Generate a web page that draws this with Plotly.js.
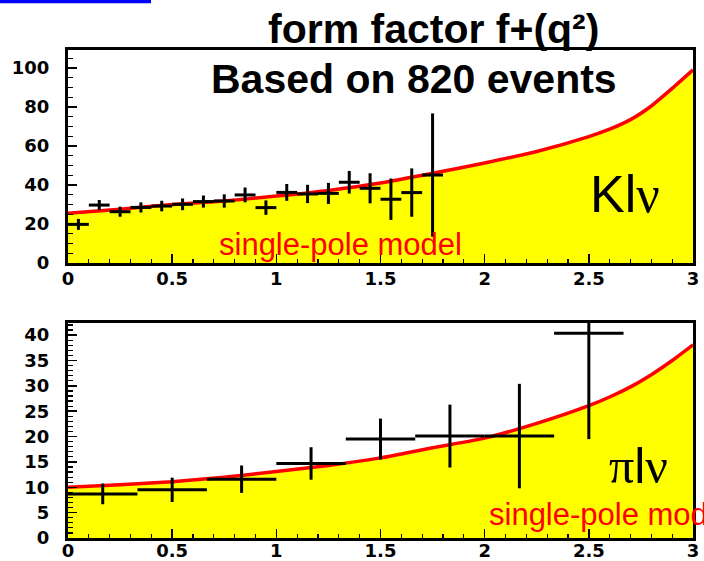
<!DOCTYPE html>
<html>
<head>
<meta charset="utf-8">
<script src="https://cdn.plot.ly/plotly-3.0.1.min.js"></script>
<style>html,body{margin:0;padding:0;background:#fff;}</style>
</head>
<body>
<div id="chart" style="width:704px;height:561px;"></div>
<script>
// ---- Klν panel (top) ----
const kModelQ2 = [0, 0.25, 0.5, 0.75, 1.0, 1.25, 1.5, 1.75, 2.0, 2.25, 2.5, 2.6, 2.7, 2.8, 2.9, 3.0];
const kModelF  = [25.5, 27.6, 30.0, 31.8, 34.3, 37.2, 41.0, 46.0, 51.3, 57.2, 64.8, 68.6, 73.5, 80.5, 89.5, 99.0];
const kDataQ2  = [0.05, 0.15, 0.25, 0.35, 0.45, 0.55, 0.65, 0.75, 0.85, 0.95, 1.05, 1.15, 1.25, 1.35, 1.45, 1.55, 1.65, 1.75];
const kDataF   = [19.8, 29.7, 26.3, 28.5, 29.2, 30.1, 31.5, 31.8, 34.9, 28.4, 36.2, 35.4, 35.7, 41.4, 38.3, 32.7, 36.1, 45.1];
const kDataErr = [2.8, 2.6, 2.6, 2.6, 2.7, 3.0, 3.1, 3.4, 3.8, 3.7, 4.3, 4.7, 5.4, 5.8, 7.7, 10.6, 12.4, 31.6];
const kBinHalf = 0.05;

// ---- πlν panel (bottom) ----
const pModelQ2 = [0, 0.25, 0.5, 0.75, 1.0, 1.25, 1.5, 1.75, 2.0, 2.25, 2.5, 2.6, 2.7, 2.8, 2.9, 3.0];
const pModelF  = [10.0, 10.5, 11.1, 12.0, 13.1, 14.3, 15.8, 17.8, 19.7, 22.6, 26.1, 27.8, 29.8, 32.2, 35.0, 38.1];
const pDataQ2  = [0.1667, 0.5, 0.8333, 1.1667, 1.5, 1.8333, 2.1667, 2.5];
const pDataF   = [8.7, 9.5, 11.6, 14.7, 19.5, 20.1, 20.1, 40.4];
const pDataErr = [2.05, 2.4, 2.7, 3.2, 4.05, 6.2, 10.3, 20.9];
const pBinHalf = 0.1667;

const xTicks = [0, 0.5, 1, 1.5, 2, 2.5, 3];
const xTickText = ['0', '0.5', '1', '1.5', '2', '2.5', '3'];

const tickFont = {family: 'DejaVu Sans', size: 18, color: '#000', weight: 'bold'};

function modelTrace(x, y, xa, ya) {
  return {
    x: x, y: y, xaxis: xa, yaxis: ya, type: 'scatter', mode: 'lines',
    line: {color: '#ff0000', width: 3.5, shape: 'spline', smoothing: 0.6},
    fill: 'tozeroy', fillcolor: '#ffff00', hoverinfo: 'skip', showlegend: false
  };
}
function dataTrace(x, y, err, half, xa, ya) {
  return {
    x: x, y: y, xaxis: xa, yaxis: ya, type: 'scatter', mode: 'markers',
    marker: {size: 1, color: 'rgba(0,0,0,0)'},
    error_y: {type: 'data', array: err, visible: true, color: '#000', thickness: 3, width: 0},
    error_x: {type: 'constant', value: half, visible: true, color: '#000', thickness: 3, width: 0},
    showlegend: false, hoverinfo: 'skip'
  };
}

const traces = [
  modelTrace(kModelQ2, kModelF, 'x', 'y'),
  dataTrace(kDataQ2, kDataF, kDataErr, kBinHalf, 'x', 'y'),
  modelTrace(pModelQ2, pModelF, 'x2', 'y2'),
  dataTrace(pDataQ2, pDataF, pDataErr, pBinHalf, 'x2', 'y2')
];

function xAxis(anchor, standoff) {
  return {
    anchor: anchor, domain: [0, 1], range: [0, 3], tickvals: xTicks, ticktext: xTickText,
    ticks: 'inside', ticklen: 9, tickwidth: 1.5, tickcolor: '#000',
    minor: {dtick: 0.1, tick0: 0, ticks: 'inside', ticklen: 4, tickwidth: 1.2, tickcolor: '#000', showgrid: false},
    showline: true, linecolor: '#000', linewidth: 3, mirror: true,
    showgrid: false, zeroline: false, tickfont: tickFont, ticklabelstandoff: standoff
  };
}
function yAxis(anchor, domain, range, dtick, minorDtick) {
  return {
    anchor: anchor, domain: domain, range: range, dtick: dtick, tick0: 0,
    ticks: 'inside', ticklen: 9, tickwidth: 1.5, tickcolor: '#000',
    minor: {dtick: minorDtick, tick0: 0, ticks: 'inside', ticklen: 5, tickwidth: 1.2, tickcolor: '#000', showgrid: false},
    showline: true, linecolor: '#000', linewidth: 3, mirror: true,
    showgrid: false, zeroline: false, tickfont: tickFont, ticklabelstandoff: 12
  };
}

const layout = {
  width: 704, height: 561,
  margin: {l: 68, r: 11, t: 50, b: 23},
  paper_bgcolor: '#fff', plot_bgcolor: '#fff',
  showlegend: false,
  xaxis: xAxis('y', -3),
  yaxis: yAxis('x', [0.5635, 1], [0, 109.2], 20, 5),
  xaxis2: xAxis('y2', -6),
  yaxis2: yAxis('x2', [0, 0.4406], [0, 42.4], 5, 1),
  shapes: [
    {type: 'rect', xref: 'paper', yref: 'paper', x0: -0.1088, x1: 0.1328, y0: 1.0957, y1: 1.103,
     fillcolor: '#0000ff', line: {width: 0}, layer: 'above'}
  ],
  annotations: [
    {text: 'form factor f+(q²)', xref: 'paper', yref: 'paper', x: 0.5848, y: 1.043,
     xanchor: 'center', yanchor: 'middle', showarrow: false,
     font: {family: 'Liberation Sans', size: 41, color: '#000', weight: 'bold'}},
    {text: 'Based on 820 events', xref: 'paper', yref: 'paper', x: 0.5536, y: 0.940,
     xanchor: 'center', yanchor: 'middle', showarrow: false,
     font: {family: 'Liberation Sans', size: 41, color: '#000', weight: 'bold'}},
    {text: 'Kl<span style="font-family:Liberation Serif">ν</span>', xref: 'paper', yref: 'paper', x: 0.891, y: 0.705,
     xanchor: 'center', yanchor: 'middle', showarrow: false,
     font: {family: 'Liberation Sans', size: 52, color: '#000'}},
    {text: 'π<span style="font-family:Liberation Sans">l</span>ν', xref: 'paper', yref: 'paper', x: 0.912, y: 0.148,
     xanchor: 'center', yanchor: 'middle', showarrow: false,
     font: {family: 'Liberation Serif', size: 50, color: '#000'}},
    {text: 'single-pole model', xref: 'paper', yref: 'paper', x: 0.2384, y: 0.601,
     xanchor: 'left', yanchor: 'middle', showarrow: false,
     font: {family: 'Liberation Sans', size: 31, color: '#ff0000'}},
    {text: 'single-pole model', xref: 'paper', yref: 'paper', x: 0.670, y: 0.048,
     xanchor: 'left', yanchor: 'middle', showarrow: false,
     font: {family: 'Liberation Sans', size: 31, color: '#ff0000'}}
  ]
};

Plotly.newPlot('chart', traces, layout, {staticPlot: true, displayModeBar: false});
</script>
</body>
</html>
